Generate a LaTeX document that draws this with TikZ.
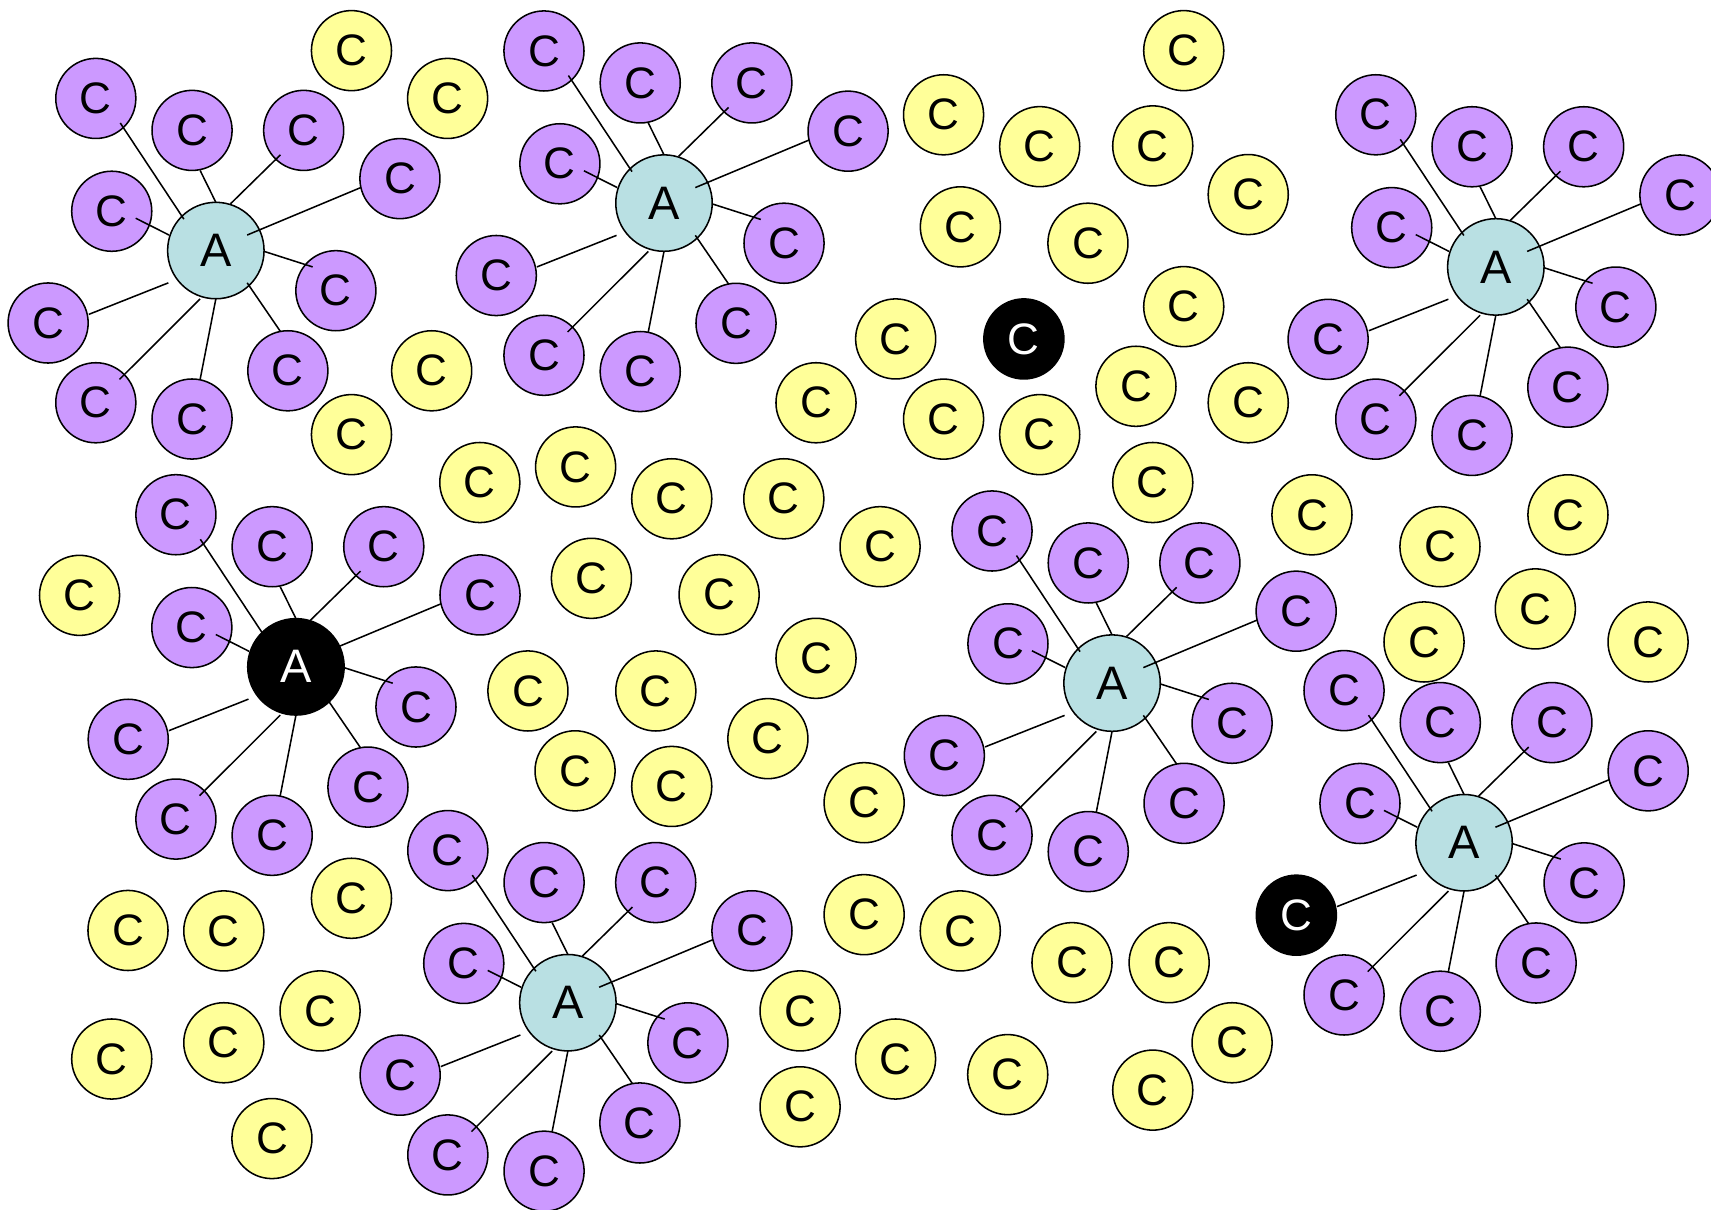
\documentclass[tikz,border=0pt]{standalone}
\usepackage{fontspec}
\setmainfont{Liberation Sans}
\usepackage{xcolor}

\definecolor{cfill}{HTML}{CC99FF}
\definecolor{yfill}{HTML}{FFFF99}
\definecolor{afill}{HTML}{B9E0E3}

\tikzset{
    ball/.style={circle, draw=black, line width=0.8pt, inner sep=0pt, font=\fontsize{23}{23}\selectfont},
    cball/.style={ball, fill=cfill, minimum size=1.468cm},
    yball/.style={ball, fill=yfill, minimum size=1.468cm},
    kball/.style={ball, fill=black, text=white, minimum size=1.468cm},
    aball/.style={ball, fill=afill, minimum size=1.768cm, font=\fontsize{24.5}{24.5}\selectfont},
    kaball/.style={aball, fill=black, text=white},
    link/.style={line width=0.8pt}
}

\begin{document}
\begin{tikzpicture}[x=0.02cm, y=-0.02cm]
    \useasboundingbox (0,0) rectangle (1568,1108);

    % free C's
    \foreach \n/\px/\py in {1/322.1/46.4, 2/410.2/90.2, 3/395.6/339.8, 4/322.1/398.3,
        5/864.7/105.2, 6/952.8/134.4, 7/1084.8/46.4, 8/1056.4/133.7, 9/1143.9/178.3,
        10/880.1/207.9, 11/997.0/222.9, 12/1084.8/281.0, 13/820.8/310.6, 14/747.8/369.1,
        15/864.7/384.1, 16/952.8/398.3, 17/1041/354, 18/1143.9/369.1, 19/1056.4/442.2,
        20/439.7/442.2, 21/527.5/427.9, 22/615.6/457.1, 23/718.3/457.1, 24/806.5/501.0,
        25/72.9/545.6, 26/542/530, 27/659/545, 28/747.8/603.3, 29/483.8/633.2,
        30/601.0/633.2, 31/703.7/676.9, 32/527/706.4, 33/615.6/720.7, 34/791.9/735.6,
        35/1202.3/471.8, 36/1319.6/501.0, 37/1436.9/471.8, 38/1305.0/588.3, 39/1407/558,
        40/1510.3/588.3, 41/322.1/823.2, 42/117.3/852.7, 43/205.1/853.1, 44/293.3/926.4,
        45/102.4/970.5, 46/205.1/955.6, 47/249.2/1043.4, 48/733.2/926.4, 49/791.9/838.2,
        50/880.0/853.1, 51/982.4/882.2, 52/1071.4/882.2, 53/820.7/970.5, 54/733.2/1014.3,
        55/923.5/984.8, 56/1129.1/955.6, 57/1056.4/999.0}
        \node[yball] (y\n) at (\px,\py) {C};
    \node[kball] (k1) at (938.3,310.6) {C};

    % stars
    \foreach \s/\px/\py/\astyle/\odd in {1/197.8/229.6/aball/cball, 2/608.5/186.1/aball/cball,
        3/1370.8/244.6/aball/cball, 4/271.2/611.1/kaball/cball, 5/1019.1/626.0/aball/cball,
        6/520.4/918.9/aball/cball, 7/1341.7/772.3/aball/kball} {
        \node[\astyle] (a\s) at (\px,\py) {A};
        \foreach \i/\dx/\dy/\sx/\sy/\ex/\ey in {1/-110/-139.4/-29.3/-28.8/22.4/22.5,
            2/-21.8/-110.1/0/-44.2/7.4/36.7, 3/80.5/-110.1/13.4/-42.8/-21.3/22.4,
            4/168.7/-65.9/28.7/-14.2/-35.9/8.2, 5/-95.4/-36/-42.9/-14.2/22.0/6.4,
            6/110/36.8/44.3/0.8/-21.3/-21.8, 7/-153.7/66.4/-43.5/29.6/37.3/-7.9,
            8/66/110.2/28.7/29.6/-6.8/-36.0, 9/-110/139.5/-14.4/44.3/21.7/-21.4,
            10/-21.8/154.4/0/44.3/7.4/-36.3} {
            \ifnum\i=7 \def\cs{\odd}\else\def\cs{cball}\fi
            \node[\cs] (c\s-\i) at ([shift={(\dx,\dy)}]a\s.center) {C};
            \draw[link] ([shift={(\sx,\sy)}]a\s.center) -- ([shift={(\ex,\ey)}]c\s-\i.center);
        }
    }
\end{tikzpicture}
\end{document}
